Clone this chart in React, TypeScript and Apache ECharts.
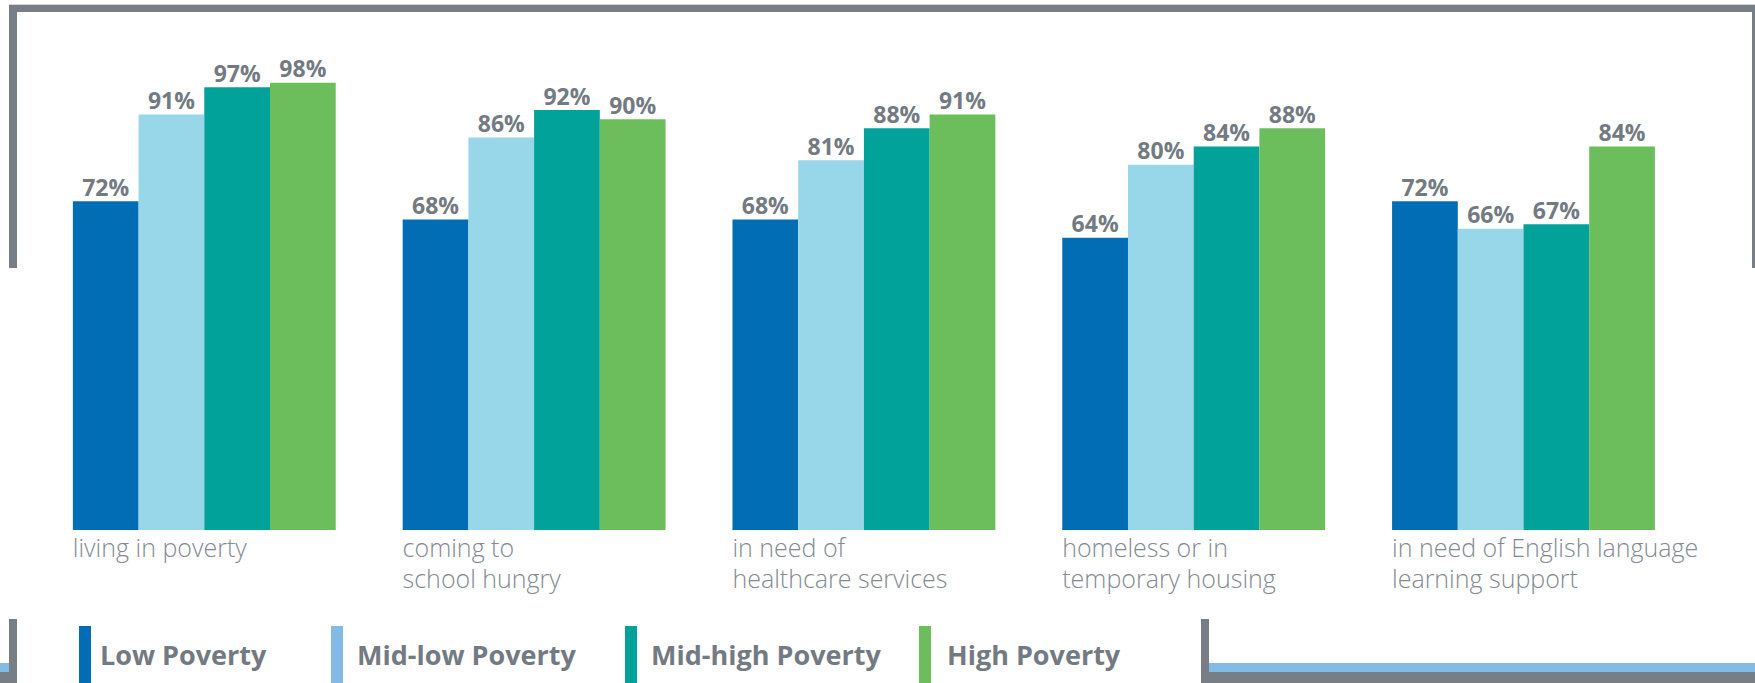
import React, { useEffect, useRef } from "react";
import * as echarts from "echarts";

const categories = [
  "living in poverty",
  "coming to\nschool hungry",
  "in need of\nhealthcare services",
  "homeless or in\ntemporary housing",
  "in need of English language\nlearning support",
];
const seriesNames = ["Low Poverty", "Mid-low Poverty", "Mid-high Poverty", "High Poverty"];
const lowPoverty = [72, 68, 68, 64, 72];
const midLowPoverty = [91, 86, 81, 80, 66];
const midHighPoverty = [97, 92, 88, 84, 67];
const highPoverty = [98, 90, 91, 88, 84];

const barColors = ["#006db5", "#97d7e9", "#00a29a", "#6cbd5b"];
const legendColors = ["#006db5", "#84bbe6", "#00a29a", "#6cbd5b"];
const legendLefts = [79, 331, 625, 919];
const legendTextGaps = [4, 9, 9, 11];

const GRAY = "#787e86";
const BLUE = "#82bce6";
const FONT = "'Open Sans', 'Liberation Sans', sans-serif";

export default function App() {
  const ref = useRef<HTMLDivElement>(null);
  useEffect(() => {
    if (!ref.current) return;
    const chart = echarts.init(ref.current, undefined, { renderer: "svg" });
    const values = [lowPoverty, midLowPoverty, midHighPoverty, highPoverty];
    const option: any = {
      animation: false,
      backgroundColor: "#ffffff",
      grid: { left: 39.4, right: 66.6, top: 73.5, bottom: 153, containLabel: false },
      xAxis: {
        type: "category",
        data: categories,
        axisLine: { show: false },
        axisTick: { show: false },
        axisLabel: {
          interval: 0,
          margin: 1,
          formatter: (v: string) =>
            v
              .split("\n")
              .map((s) => `{a|${s}}`)
              .join("\n"),
          rich: {
            a: {
              width: 263,
              align: "left",
              fontSize: 25,
              lineHeight: 31,
              fontFamily: FONT,
              fontWeight: 300,
              color: "#838a93",
            },
          },
        },
      },
      yAxis: {
        type: "value",
        min: 0,
        max: 100,
        show: false,
        splitLine: { show: false },
      },
      legend: seriesNames.map((name, i) => ({
        data: [{ name, itemStyle: { color: legendColors[i] } }],
        left: legendLefts[i],
        top: 626,
        padding: 0,
        itemWidth: 12,
        itemHeight: 57,
        icon: "rect",
        selectedMode: false,
        textStyle: {
          fontSize: 27,
          fontWeight: "bold",
          fontFamily: FONT,
          color: "#737a82",
          padding: [0, 0, 0, legendTextGaps[i]],
        },
      })),
      series: seriesNames.map((name, i) => ({
        name,
        type: "bar",
        data: values[i],
        barGap: "0%",
        barCategoryGap: "20.3%",
        itemStyle: { color: barColors[i] },
        label: {
          show: true,
          position: "top",
          distance: 3,
          formatter: "{c}%",
          fontSize: 23,
          fontWeight: "bold",
          fontFamily: FONT,
          color: "#737a82",
        },
      })),
      graphic: [
        { type: "rect", shape: { x: 9, y: 4, width: 1746, height: 1 }, style: { fill: "#d4d6d9" } },
        { type: "rect", shape: { x: 9, y: 5, width: 1746, height: 7 }, style: { fill: GRAY } },
        { type: "rect", shape: { x: 9, y: 5, width: 8, height: 263 }, style: { fill: GRAY } },
        { type: "rect", shape: { x: 1752, y: 5, width: 8, height: 263 }, style: { fill: GRAY } },
        { type: "rect", shape: { x: 9, y: 619, width: 8, height: 64 }, style: { fill: GRAY } },
        { type: "rect", shape: { x: 0, y: 663, width: 9, height: 9 }, style: { fill: BLUE } },
        { type: "rect", shape: { x: 0, y: 672, width: 17, height: 11 }, style: { fill: GRAY } },
        { type: "rect", shape: { x: 1201, y: 619, width: 8, height: 64 }, style: { fill: GRAY } },
        { type: "rect", shape: { x: 1209, y: 663, width: 546, height: 9 }, style: { fill: BLUE } },
        { type: "rect", shape: { x: 1201, y: 672, width: 554, height: 11 }, style: { fill: GRAY } },
      ],
    };
    chart.setOption(option);
    return () => chart.dispose();
  }, []);
  return (
    <div
      ref={ref}
      style={{ position: "absolute", left: 0, top: 0, width: 1755, height: 683 }}
    />
  );
}
